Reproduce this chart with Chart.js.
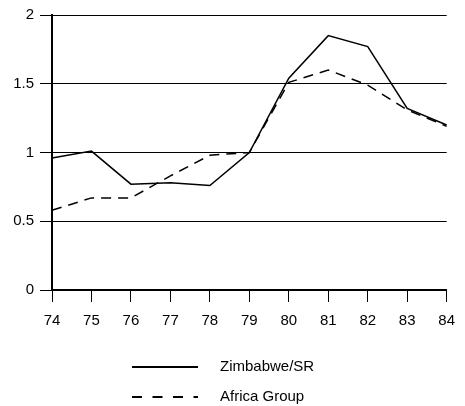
<!DOCTYPE html>
<html lang="en">
<head>
    <meta charset="UTF-8">
    <title>Zimbabwe/SR vs Africa Group</title>
    <script src="https://cdn.jsdelivr.net/npm/chart.js"></script>
    <style>
        html, body {
            margin: 0;
            padding: 0;
            background: #fff;
        }
        #chart-container {
            width: 465px;
            height: 406px;
        }
    </style>
</head>
<body>
    <div id="chart-container">
        <canvas id="myChart"></canvas>
    </div>

    <script>
        // Years on the x axis
        const years = ['74', '75', '76', '77', '78', '79', '80', '81', '82', '83', '84'];

        // Series values
        const zimbabwe = [0.96, 1.01, 0.77, 0.78, 0.76, 1.00, 1.54, 1.85, 1.77, 1.32, 1.20];
        const africaGroup = [0.58, 0.67, 0.67, 0.83, 0.98, 1.00, 1.51, 1.60, 1.49, 1.31, 1.19];

        const seriesNames = ['Zimbabwe/SR', 'Africa Group'];
        const yTicks = [0, 0.5, 1, 1.5, 2];

        const fontFamily = '"Liberation Sans", Arial, sans-serif';

        // simple stacked legend under the plot (one entry per row)
        const stackedLegend = {
            id: 'stackedLegend',
            afterDraw(chart) {
                const ctx = chart.ctx;
                const rows = [367, 397];
                ctx.save();
                chart.data.datasets.forEach((ds, i) => {
                    const y = rows[i];
                    ctx.beginPath();
                    ctx.strokeStyle = '#000';
                    ctx.lineWidth = 2;
                    ctx.setLineDash(i === 0 ? [] : [10, 10.5]);
                    ctx.moveTo(132, y);
                    ctx.lineTo(198, y);
                    ctx.stroke();
                    ctx.setLineDash([]);
                    ctx.fillStyle = '#000';
                    ctx.font = '15px ' + fontFamily;
                    ctx.textBaseline = 'middle';
                    ctx.textAlign = 'left';
                    ctx.fillText(ds.label, 220, y);
                });
                ctx.restore();
            }
        };

        const ctx = document.getElementById('myChart').getContext('2d');
        new Chart(ctx, {
            type: 'line',
            data: {
                labels: years,
                datasets: [
                    {
                        label: seriesNames[0],
                        data: zimbabwe,
                        borderColor: '#000',
                        borderWidth: 1.5,
                        pointRadius: 0,
                        tension: 0
                    },
                    {
                        label: seriesNames[1],
                        data: africaGroup,
                        borderColor: '#000',
                        borderWidth: 1.5,
                        borderDash: [10, 7],
                        pointRadius: 0,
                        tension: 0
                    }
                ]
            },
            options: {
                responsive: true,
                maintainAspectRatio: false,
                animation: false,
                layout: {
                    padding: { top: 12, right: 9, bottom: 0, left: 0 }
                },
                plugins: {
                    legend: { display: false },
                    tooltip: { enabled: false }
                },
                scales: {
                    x: {
                        offset: false,
                        grid: {
                            drawOnChartArea: false,
                            drawTicks: true,
                            tickLength: 12,
                            color: '#000',
                            lineWidth: 1
                        },
                        border: { display: true, color: '#000', width: 2 },
                        ticks: {
                            color: '#000',
                            padding: 10,
                            maxRotation: 0,
                            font: { family: fontFamily, size: 15 }
                        },
                        afterFit(scale) {
                            scale.height = 116;
                        }
                    },
                    y: {
                        min: 0,
                        max: 2,
                        afterBuildTicks(scale) {
                            scale.ticks = yTicks.map(v => ({ value: v }));
                        },
                        grid: {
                            drawOnChartArea: true,
                            drawTicks: true,
                            tickLength: 12,
                            color: '#000',
                            lineWidth: 1
                        },
                        border: { display: true, color: '#000', width: 2 },
                        ticks: {
                            color: '#000',
                            padding: 6,
                            font: { family: fontFamily, size: 15 },
                            callback: value => String(value)
                        },
                        afterFit(scale) {
                            scale.width = 52;
                        }
                    }
                }
            },
            plugins: [stackedLegend]
        });
    </script>
</body>
</html>
